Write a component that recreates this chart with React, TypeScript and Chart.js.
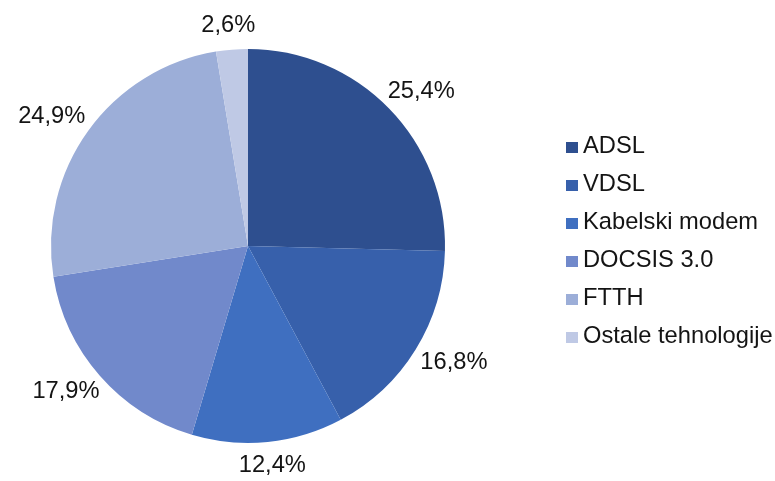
import React, { useEffect, useRef } from "react";
import { Chart, registerables } from "chart.js";

Chart.register(...registerables);

const categories = ["ADSL", "VDSL", "Kabelski modem", "DOCSIS 3.0", "FTTH", "Ostale tehnologije"];
const shares = [25.4, 16.8, 12.4, 17.9, 24.9, 2.6];
const sliceColors = ["#2E4F8F", "#3760AB", "#3F6FC0", "#7189CB", "#9CAED8", "#BFC9E5"];
const valueLabels = ["25,4%", "16,8%", "12,4%", "17,9%", "24,9%", "2,6%"];

const FONT = '23.7px "Liberation Sans", Arial, sans-serif';
const TEXT_COLOR = "#141414";

const labelsPlugin = {
  id: "outsideLabels",
  afterDraw(chart: any) {
    const ctx = chart.ctx;
    const meta = chart.getDatasetMeta(0);
    ctx.save();
    ctx.font = FONT;
    ctx.fillStyle = TEXT_COLOR;
    ctx.textAlign = "center";
    ctx.textBaseline = "middle";
    meta.data.forEach((arc: any, i: number) => {
      const p = arc.getProps(["x", "y", "startAngle", "endAngle", "outerRadius"], true);
      const mid = (p.startAngle + p.endAngle) / 2;
      const rx = p.outerRadius + 45;
      const ry = p.outerRadius + 24;
      const x = p.x + rx * Math.cos(mid);
      const y = p.y + ry * Math.sin(mid);
      ctx.fillText(valueLabels[i], x, y);
    });
    // legend
    const lx = 566;
    const ly = 147;
    const step = 38;
    categories.forEach((c, i) => {
      const y = ly + i * step;
      ctx.fillStyle = sliceColors[i];
      ctx.fillRect(lx, y - 5, 12, 11);
      ctx.fillStyle = TEXT_COLOR;
      ctx.textAlign = "left";
      ctx.fillText(c, lx + 17, y - 1);
    });
    ctx.restore();
  },
};

export default function App() {
  const ref = useRef<HTMLCanvasElement | null>(null);
  useEffect(() => {
    if (!ref.current) return;
    const chart = new Chart(ref.current, {
      type: "pie",
      data: {
        labels: categories,
        datasets: [
          {
            data: shares,
            backgroundColor: sliceColors,
            borderWidth: 0,
          },
        ],
      },
      options: {
        responsive: false,
        animation: false,
        layout: { padding: { left: 51, right: 330, top: 49, bottom: 38 } },
        plugins: {
          legend: { display: false },
          tooltip: { enabled: false },
        },
      },
      plugins: [labelsPlugin],
    });
    return () => chart.destroy();
  }, []);
  return (
    <div style={{ position: "fixed", left: 0, top: 0, width: 775, height: 481, background: "#fff" }}>
      <canvas ref={ref} width={775} height={481} />
    </div>
  );
}
